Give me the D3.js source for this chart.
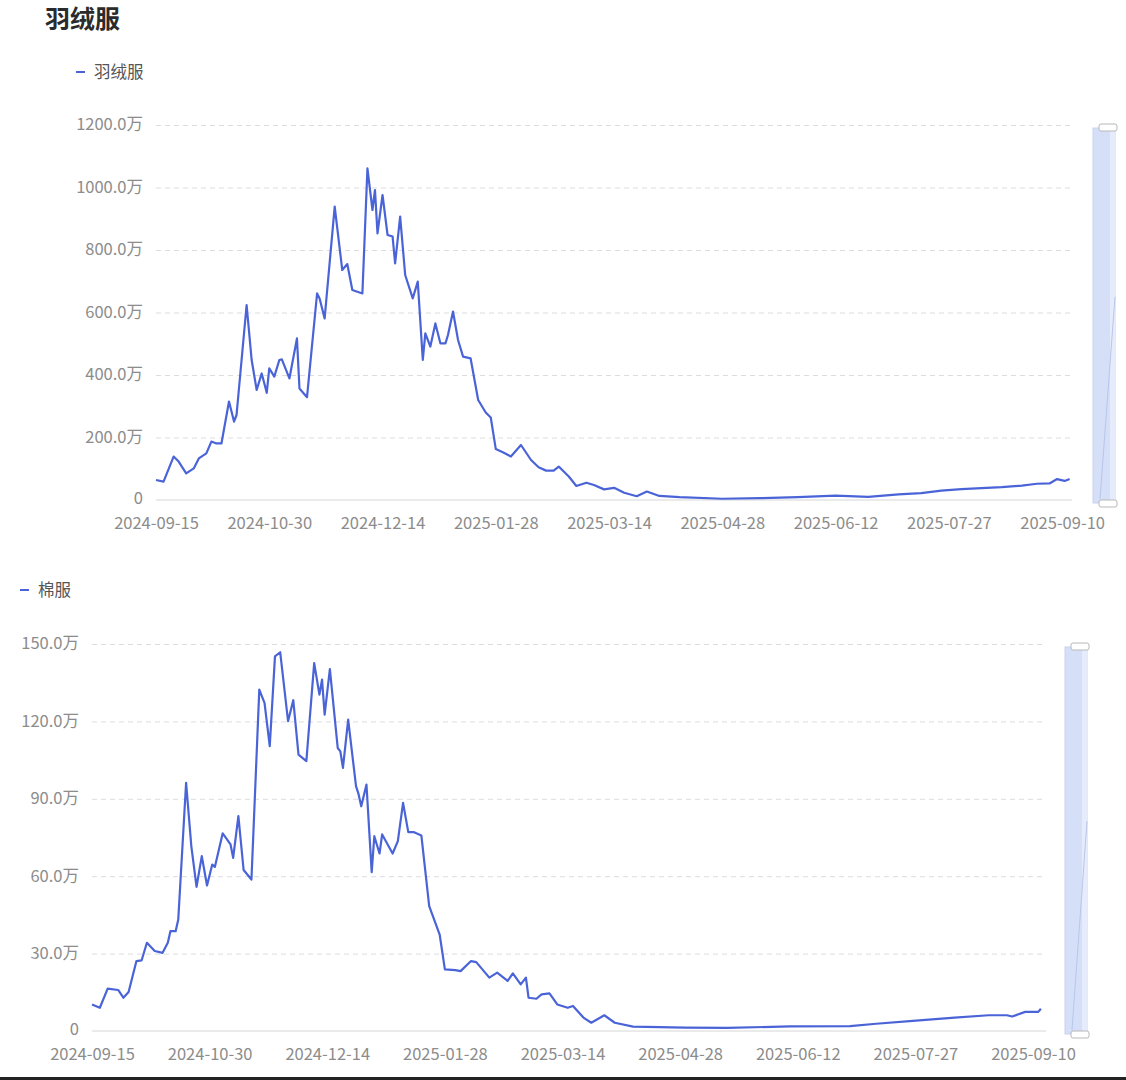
<!DOCTYPE html>
<html lang="zh">
<head>
    <meta charset="UTF-8">
    <title>羽绒服 / 棉服</title>
    <script src="https://d3js.org/d3.v7.min.js"></script>
    <style>
        body { margin: 0; background: #fff; }
        svg text { font-family: "Noto Sans CJK SC", "Noto Sans", sans-serif; }
    </style>
</head>
<body>
    <svg width="1126" height="1080" id="mainsvg"></svg>

    <script>
        // x axis tick labels (every 45 days)
        const tickDates = ["2024-09-15", "2024-10-30", "2024-12-14", "2025-01-28", "2025-03-14",
                           "2025-04-28", "2025-06-12", "2025-07-27", "2025-09-10"]
        const firstDate = "2024-09-15", lastDate = "2025-09-13"

        // 羽绒服, 单位: 万
        const downDates = ["2024-09-15","2024-09-18","2024-09-22","2024-09-24","2024-09-27","2024-09-30",
            "2024-10-02","2024-10-05","2024-10-07","2024-10-09","2024-10-11","2024-10-14","2024-10-16",
            "2024-10-17","2024-10-21","2024-10-23","2024-10-25","2024-10-27","2024-10-29","2024-10-30",
            "2024-11-01","2024-11-03","2024-11-04","2024-11-07","2024-11-10","2024-11-11","2024-11-14",
            "2024-11-18","2024-11-19","2024-11-21","2024-11-25","2024-11-28","2024-11-30","2024-12-02",
            "2024-12-06","2024-12-08","2024-12-10","2024-12-11","2024-12-12","2024-12-14","2024-12-16",
            "2024-12-18","2024-12-19","2024-12-21","2024-12-23","2024-12-26","2024-12-28","2024-12-30",
            "2024-12-31","2025-01-02","2025-01-04","2025-01-06","2025-01-08","2025-01-09","2025-01-11",
            "2025-01-13","2025-01-15","2025-01-18","2025-01-21","2025-01-24","2025-01-26","2025-01-28",
            "2025-01-31","2025-02-03","2025-02-07","2025-02-11","2025-02-14","2025-02-17","2025-02-20",
            "2025-02-22","2025-02-26","2025-03-01","2025-03-05","2025-03-08","2025-03-12","2025-03-16",
            "2025-03-20","2025-03-25","2025-03-29","2025-04-03","2025-04-11","2025-04-28","2025-05-13",
            "2025-05-28","2025-06-12","2025-06-25","2025-07-07","2025-07-16","2025-07-24","2025-08-01",
            "2025-08-09","2025-08-17","2025-08-25","2025-08-31","2025-09-05","2025-09-08","2025-09-11",
            "2025-09-13"]
        const downValues = [64, 59, 139, 123, 85, 101,
            133, 149, 187, 181, 181, 315, 251,
            272, 624, 448, 352, 405, 343, 421,
            395, 448, 450, 389, 517, 357, 329,
            661, 645, 581, 939, 736, 755, 672,
            661, 1061, 928, 992, 853, 976, 848,
            843, 757, 907, 720, 645, 699, 448,
            533, 491, 565, 501, 501, 528, 603,
            512, 459, 453, 320, 280, 264, 163,
            152, 139, 176, 128, 105, 94, 94,
            107, 75, 45, 55, 48, 34, 39,
            23, 12, 27, 13, 9, 4, 6,
            9, 14, 10, 18, 22, 30, 35,
            38, 41, 46, 52, 53, 67, 61,
            67]

        // 棉服, 单位: 万
        const cottonDates = ["2024-09-15","2024-09-18","2024-09-21","2024-09-25","2024-09-27","2024-09-29",
            "2024-10-02","2024-10-04","2024-10-06","2024-10-09","2024-10-12","2024-10-14","2024-10-15",
            "2024-10-17","2024-10-18","2024-10-21","2024-10-23","2024-10-25","2024-10-27","2024-10-29",
            "2024-10-31","2024-11-01","2024-11-04","2024-11-07","2024-11-08","2024-11-10","2024-11-12",
            "2024-11-15","2024-11-18","2024-11-20","2024-11-22","2024-11-24","2024-11-26","2024-11-29",
            "2024-12-01","2024-12-03","2024-12-06","2024-12-09","2024-12-11","2024-12-12","2024-12-13",
            "2024-12-15","2024-12-18","2024-12-19","2024-12-20","2024-12-22","2024-12-25","2024-12-26",
            "2024-12-27","2024-12-29","2024-12-31","2025-01-01","2025-01-03","2025-01-04","2025-01-08",
            "2025-01-10","2025-01-12","2025-01-14","2025-01-16","2025-01-19","2025-01-22","2025-01-26",
            "2025-01-28","2025-02-01","2025-02-03","2025-02-07","2025-02-09","2025-02-14","2025-02-17",
            "2025-02-21","2025-02-23","2025-02-26","2025-02-28","2025-03-01","2025-03-04","2025-03-06",
            "2025-03-09","2025-03-12","2025-03-16","2025-03-18","2025-03-22","2025-03-25","2025-03-30",
            "2025-04-03","2025-04-10","2025-04-30","2025-05-16","2025-06-09","2025-07-02","2025-07-12",
            "2025-07-26","2025-08-11","2025-08-24","2025-08-31","2025-09-02","2025-09-07","2025-09-12",
            "2025-09-13"]
        const cottonValues = [10.3, 9.0, 16.4, 15.9, 12.9, 15.1,
            27.1, 27.4, 34.2, 31.0, 30.3, 34.2, 38.7,
            38.7, 43.2, 96.2, 71.6, 55.9, 67.8, 56.4,
            64.5, 63.6, 76.6, 72.3, 67.1, 83.3, 62.4,
            58.7, 132.3, 127.2, 110.4, 145.2, 146.8, 120.1,
            128.2, 107.1, 104.6, 142.6, 130.4, 136.2, 122.6,
            140.3, 109.7, 108.4, 102.0, 120.7, 94.9, 91.7,
            87.1, 95.5, 61.6, 75.5, 68.8, 76.2, 68.8,
            73.6, 88.4, 77.1, 77.1, 75.8, 48.4, 37.4,
            23.9, 23.6, 23.2, 27.1, 26.7, 20.7, 22.6,
            19.4, 22.3, 18.1, 20.7, 12.9, 12.5, 14.2,
            14.6, 10.3, 9.0, 9.7, 5.2, 3.2, 6.1,
            3.2, 1.7, 1.3, 1.2, 1.8, 1.9, 2.8,
            3.9, 5.2, 6.1, 6.1, 5.6, 7.4, 7.4,
            8.6]

        const downTicks = [0, 200, 400, 600, 800, 1000, 1200]
        const cottonTicks = [0, 30, 60, 90, 120, 150]

        const parseDate = d3.timeParse("%Y-%m-%d")
        const fmtDate = d3.timeFormat("%Y-%m-%d")
        const lineColor = "#4a64d8"
        const labelColor = "#8c8c8c"

        const svg = d3.select("#mainsvg")

        // page title
        svg.append("text").attr("x", 45).attr("y", 28)
            .attr("font-size", 25).attr("font-weight", "bold").attr("fill", "#2b2b2b")
            .text("羽绒服")

        function drawChart(cfg) {
            const g = svg.append("g")
            const xScale = d3.scaleTime()
                .domain([parseDate(firstDate), parseDate(lastDate)])
                .range([cfg.left, cfg.left + cfg.dayPx * 363])
            const yScale = d3.scaleLinear()
                .domain([0, d3.max(cfg.ticks)])
                .range([cfg.bottom, cfg.top])

            // legend
            g.append("line")
                .attr("x1", cfg.legendX).attr("x2", cfg.legendX + 9)
                .attr("y1", cfg.legendY).attr("y2", cfg.legendY)
                .attr("stroke", lineColor).attr("stroke-width", 2)
            g.append("text").attr("x", cfg.legendX + 18).attr("y", cfg.legendY + 6)
                .attr("font-size", 16.5).attr("fill", "#555").text(cfg.name)

            // y axis with dashed grid
            const yAxis = d3.axisLeft(yScale)
                .tickValues(cfg.ticks)
                .tickSize(-(cfg.right - cfg.left))
                .tickFormat(d => d === 0 ? "0" : d.toFixed(1) + "万")
            const ya = g.append("g").attr("transform", `translate(${cfg.left}, 0)`).call(yAxis)
            ya.select(".domain").remove()
            ya.selectAll(".tick line")
                .attr("stroke", "#dcdcdc").attr("stroke-dasharray", "5,4")
                .filter(d => d === 0).remove()
            ya.selectAll(".tick text").attr("x", -13).attr("dy", "0.3em").attr("font-size", 16.5)
                .attr("fill", labelColor).attr("font-family", null)
            ya.selectAll(".tick text").filter(d => d === 0).attr("dy", "0.2em")

            // x axis
            const xAxis = d3.axisBottom(xScale)
                .tickValues(tickDates.map(parseDate))
                .tickSize(0)
                .tickFormat(fmtDate)
            const xa = g.append("g").attr("transform", `translate(0, ${cfg.bottom})`).call(xAxis)
            xa.select(".domain").attr("d", `M${cfg.left},0H${cfg.right}`).attr("stroke", "#d6d6d6")
            xa.selectAll(".tick text").attr("y", 17).attr("font-size", 16.5)
                .attr("fill", labelColor).attr("font-family", null)

            // line
            const points = cfg.dates.map((d, i) => ({ date: parseDate(d), value: cfg.values[i] }))
            const line = d3.line()
                .x(d => xScale(d.date))
                .y(d => yScale(d.value))
            g.append("path").datum(points)
                .attr("fill", "none")
                .attr("stroke", lineColor)
                .attr("stroke-width", 2.2)
                .attr("stroke-linejoin", "round")
                .attr("d", line)

            // vertical data zoom slider
            const sx = cfg.sliderX, sTop = cfg.top + 3, sBot = cfg.bottom + 3
            g.append("rect").attr("x", sx).attr("y", sTop).attr("width", 22).attr("height", sBot - sTop)
                .attr("fill", "#d5dff8").attr("stroke", "#c9d3ee")
            g.append("rect").attr("x", sx + 17).attr("y", sTop).attr("width", 5).attr("height", sBot - sTop)
                .attr("fill", "#e6ecfb")
            g.append("line").attr("x1", sx + 7).attr("y1", sBot - 4)
                .attr("x2", sx + 22).attr("y2", sTop + (sBot - sTop) * 0.45)
                .attr("stroke", "#b9c6ea").attr("stroke-width", 1)
            ;[sTop - 4, sBot - 3].forEach(hy => {
                g.append("rect").attr("x", sx + 6).attr("y", hy).attr("width", 18).attr("height", 7)
                    .attr("rx", 2).attr("fill", "#fff").attr("stroke", "#b8b8b8")
            })
        }

        drawChart({
            name: "羽绒服", dates: downDates, values: downValues, ticks: downTicks,
            left: 156, right: 1072, top: 125, bottom: 500, dayPx: 2.517,
            legendX: 76, legendY: 72, sliderX: 1093
        })
        drawChart({
            name: "棉服", dates: cottonDates, values: cottonValues, ticks: cottonTicks,
            left: 92, right: 1046, top: 644, bottom: 1031, dayPx: 2.614,
            legendX: 20, legendY: 590, sliderX: 1065
        })

        // dark edge at the very bottom of the screenshot
        svg.append("rect").attr("x", 0).attr("y", 1077).attr("width", 1126).attr("height", 3).attr("fill", "#222")
    </script>
</body>
</html>
